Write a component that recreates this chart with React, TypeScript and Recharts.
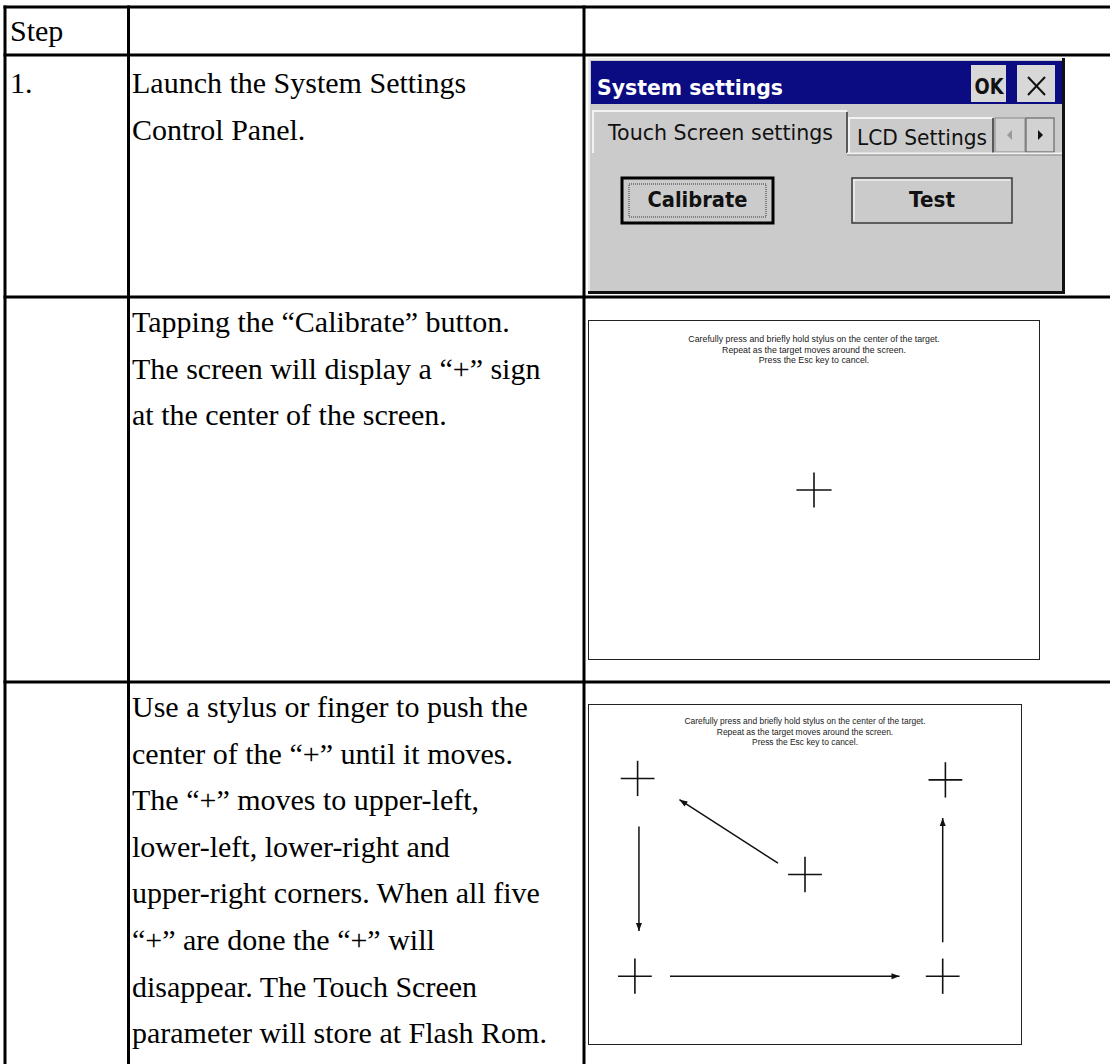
import { ScatterChart, Scatter, XAxis, YAxis } from "recharts";

// calibration screen is a 320x240 touch panel
const SCREEN_W = 320;
const SCREEN_H = 240;
const CROSS_SIZE = 25;

const stepLabels = ["Step", "1."];
const row1Lines = ["Launch the System Settings", "Control Panel."];
const row2Lines = [
  "Tapping the \u201cCalibrate\u201d button.",
  "The screen will display a \u201c+\u201d sign",
  "at the center of the screen.",
];
const row3Lines = [
  "Use a stylus or finger to push the",
  "center of the \u201c+\u201d until it moves.",
  "The \u201c+\u201d moves to upper-left,",
  "lower-left, lower-right and",
  "upper-right corners. When all five",
  "\u201c+\u201d are done the \u201c+\u201d will",
  "disappear. The Touch Screen",
  "parameter will store at Flash Rom.",
];
const promptLines = [
  "Carefully press and briefly hold stylus on the center of the target.",
  "Repeat as the target moves around the screen.",
  "Press the Esc key to cancel.",
];

// targets, in screen coordinates
const firstTargetX = [160];
const firstTargetY = [120];
const allTargetX = [160, 36, 34, 262, 264];
const allTargetY = [120, 52, 192, 192, 53];

// arrows between the targets
const arrowFromX = [140, 37, 60, 262];
const arrowFromY = [112, 86, 192, 168];
const arrowToX = [67, 37, 230, 262];
const arrowToY = [67, 160, 192, 80];

const toPoints = (xs: number[], ys: number[]) => xs.map((x, i) => ({ x, y: ys[i] }));

interface ScreenProps {
  left: number;
  top: number;
  width: number;
  height: number;
  targets: { x: number; y: number }[];
  arrows: { x1: number; y1: number; x2: number; y2: number }[];
  textTop: number;
}

function CalibrationScreen({ left, top, width, height, targets, arrows, textTop }: ScreenProps) {
  const w = width - 2;
  const h = height - 2;
  const kx = w / SCREEN_W;
  const ky = h / SCREEN_H;
  const fontSize = (8.8 * width) / 452;

  const crossShape = (props: any) => {
    const { cx, cy } = props;
    const hw = (CROSS_SIZE / 2) * kx;
    const hh = (CROSS_SIZE / 2) * ky;
    return (
      <g>
        <line x1={cx - hw} y1={cy} x2={cx + hw} y2={cy} stroke="#111" strokeWidth={1.6} />
        <line x1={cx} y1={cy - hh} x2={cx} y2={cy + hh} stroke="#111" strokeWidth={1.6} />
      </g>
    );
  };

  const headShape = (props: any) => {
    const { cx, cy, payload } = props;
    if (!payload.head) return <g />;
    const a = Math.atan2(payload.dy * ky, payload.dx * kx);
    const len = 8;
    const half = 3;
    const bx = cx - len * Math.cos(a);
    const by = cy - len * Math.sin(a);
    const px = -Math.sin(a) * half;
    const py = Math.cos(a) * half;
    return <polygon points={`${cx},${cy} ${bx + px},${by + py} ${bx - px},${by - py}`} fill="#111" />;
  };

  return (
    <div
      style={{
        position: "absolute",
        left,
        top,
        width,
        height,
        border: "1px solid #222",
        boxSizing: "border-box",
        background: "#fff",
      }}
    >
      <ScatterChart width={w} height={h} margin={{ top: 0, right: 0, bottom: 0, left: 0 }}>
        <XAxis type="number" dataKey="x" domain={[0, SCREEN_W]} hide />
        <YAxis type="number" dataKey="y" domain={[0, SCREEN_H]} reversed hide />
        {arrows.map((a, i) => (
          <Scatter
            key={`arrow-${i}`}
            data={[
              { x: a.x1, y: a.y1, head: false },
              { x: a.x2, y: a.y2, head: true, dx: a.x2 - a.x1, dy: a.y2 - a.y1 },
            ]}
            line={{ stroke: "#111", strokeWidth: 1.5 }}
            lineType="joint"
            shape={headShape}
            isAnimationActive={false}
          />
        ))}
        <Scatter data={targets} shape={crossShape} isAnimationActive={false} />
      </ScatterChart>
      <svg width={w} height={h} style={{ position: "absolute", left: 0, top: 0, pointerEvents: "none" }}>
        {promptLines.map((t, i) => (
          <text
            key={i}
            x={w / 2}
            y={textTop + i * 10.5}
            textAnchor="middle"
            fontFamily="Liberation Sans, Arial, sans-serif"
            fontSize={fontSize}
            fill="#1a1a1a"
          >
            {t}
          </text>
        ))}
      </svg>
    </div>
  );
}

function SystemSettingsDialog() {
  const face = "#cbcbcb";
  const ui = "DejaVu Sans, Verdana, sans-serif";
  return (
    <g>
      <rect x={588} y={58} width={477} height={236} fill={face} />
      <line x1={588} y1={59} x2={1065} y2={59} stroke="#ececec" strokeWidth={2} />
      <line x1={589} y1={58} x2={589} y2={294} stroke="#ececec" strokeWidth={2} />
      <line x1={1063.5} y1={58} x2={1063.5} y2={294} stroke="#111" strokeWidth={3} />
      <line x1={588} y1={292.5} x2={1065} y2={292.5} stroke="#111" strokeWidth={3} />

      {/* title bar */}
      <rect x={591} y={61} width={471} height={43} fill="#0b0b82" />
      <text x={597} y={95} fill="#fff" fontFamily={ui} fontWeight="bold" fontSize={22} textLength={186} lengthAdjust="spacingAndGlyphs">
        System settings
      </text>
      <rect x={971} y={65} width={35} height={37} fill="#d8d8d8" />
      <text x={989} y={94} textAnchor="middle" fill="#111" fontFamily={ui} fontWeight="bold" fontSize={22} textLength={29} lengthAdjust="spacingAndGlyphs">
        OK
      </text>
      <rect x={1017} y={65} width={38} height={37} fill="#d8d8d8" />
      <line x1={1028} y1={77} x2={1045} y2={95} stroke="#111" strokeWidth={2} />
      <line x1={1045} y1={77} x2={1028} y2={95} stroke="#111" strokeWidth={2} />

      {/* tabs */}
      <path d="M593,153 L593,111 L847,111" fill="none" stroke="#f2f2f2" strokeWidth={2} />
      <line x1={847} y1={112} x2={847} y2={153} stroke="#333" strokeWidth={1.5} />
      <text x={608} y={140} fill="#111" fontFamily={ui} fontSize={22} textLength={225} lengthAdjust="spacingAndGlyphs">
        Touch Screen settings
      </text>
      <path d="M849,153 L849,118 L993,118" fill="none" stroke="#f2f2f2" strokeWidth={2} />
      <line x1={993} y1={118} x2={993} y2={153} stroke="#333" strokeWidth={1.5} />
      <text x={857} y={145} fill="#111" fontFamily={ui} fontSize={22} textLength={130} lengthAdjust="spacingAndGlyphs">
        LCD Settings
      </text>
      <rect x={995} y={118} width={30} height={34} fill="#d2d2d2" stroke="#8a8a8a" strokeWidth={1} />
      <polygon points="1007,135 1012,130 1012,140" fill="#9a9a9a" />
      <rect x={1026} y={118} width={28} height={34} fill="#d2d2d2" stroke="#555" strokeWidth={1} />
      <polygon points="1043,135 1038,130 1038,140" fill="#111" />
      <line x1={847} y1={153.5} x2={1062} y2={153.5} stroke="#f2f2f2" strokeWidth={2} />
      <line x1={847} y1={155} x2={1062} y2={155} stroke="#8c8c8c" strokeWidth={1} />

      {/* buttons */}
      <rect x={622} y={178} width={151} height={45} fill={face} stroke="#000" strokeWidth={3} />
      <rect x={629} y={184} width={137} height={33} fill="none" stroke="#333" strokeWidth={1} strokeDasharray="1 1" />
      <text x={697.5} y={207} textAnchor="middle" fill="#111" fontFamily={ui} fontWeight="bold" fontSize={22} textLength={100} lengthAdjust="spacingAndGlyphs">
        Calibrate
      </text>
      <rect x={852} y={178} width={160} height={45} fill={face} stroke="#3a3a3a" strokeWidth={1.5} />
      <path d="M854,221 L854,180 L1010,180" fill="none" stroke="#efefef" strokeWidth={1.5} />
      <text x={932} y={207} textAnchor="middle" fill="#111" fontFamily={ui} fontWeight="bold" fontSize={22} textLength={46} lengthAdjust="spacingAndGlyphs">
        Test
      </text>
    </g>
  );
}

export default function App() {
  const serif = "Liberation Serif, Times New Roman, serif";
  const lineGap = 46.6;
  const textX = 132;
  const rule = { stroke: "#000", strokeWidth: 3 };

  return (
    <div style={{ position: "absolute", left: 0, top: 0, width: 1110, height: 1064, background: "#fff", overflow: "hidden" }}>
      <svg width={1110} height={1064} style={{ position: "absolute", left: 0, top: 0 }}>
        {/* table rules */}
        {[7, 55, 297, 682].map((y) => (
          <line key={`h${y}`} x1={3.5} y1={y} x2={1110} y2={y} {...rule} />
        ))}
        {[5, 128.5, 584].map((x) => (
          <line key={`v${x}`} x1={x} y1={5.5} x2={x} y2={1064} {...rule} />
        ))}

        <g fontFamily={serif} fontSize={30} fill="#000">
          <text x={10} y={41}>{stepLabels[0]}</text>
          <text x={10} y={93}>{stepLabels[1]}</text>
          {row1Lines.map((t, i) => (
            <text key={`r1${i}`} x={textX} y={93 + i * lineGap}>{t}</text>
          ))}
          {row2Lines.map((t, i) => (
            <text key={`r2${i}`} x={textX} y={332 + i * lineGap}>{t}</text>
          ))}
          {row3Lines.map((t, i) => (
            <text key={`r3${i}`} x={textX} y={717 + i * lineGap}>{t}</text>
          ))}
        </g>

        <SystemSettingsDialog />
      </svg>

      <CalibrationScreen
        left={588}
        top={320}
        width={452}
        height={340}
        targets={toPoints(firstTargetX, firstTargetY)}
        arrows={[]}
        textTop={21}
      />
      <CalibrationScreen
        left={588}
        top={704}
        width={434}
        height={341}
        targets={toPoints(allTargetX, allTargetY)}
        arrows={arrowFromX.map((x1, i) => ({ x1, y1: arrowFromY[i], x2: arrowToX[i], y2: arrowToY[i] }))}
        textTop={19}
      />
    </div>
  );
}
